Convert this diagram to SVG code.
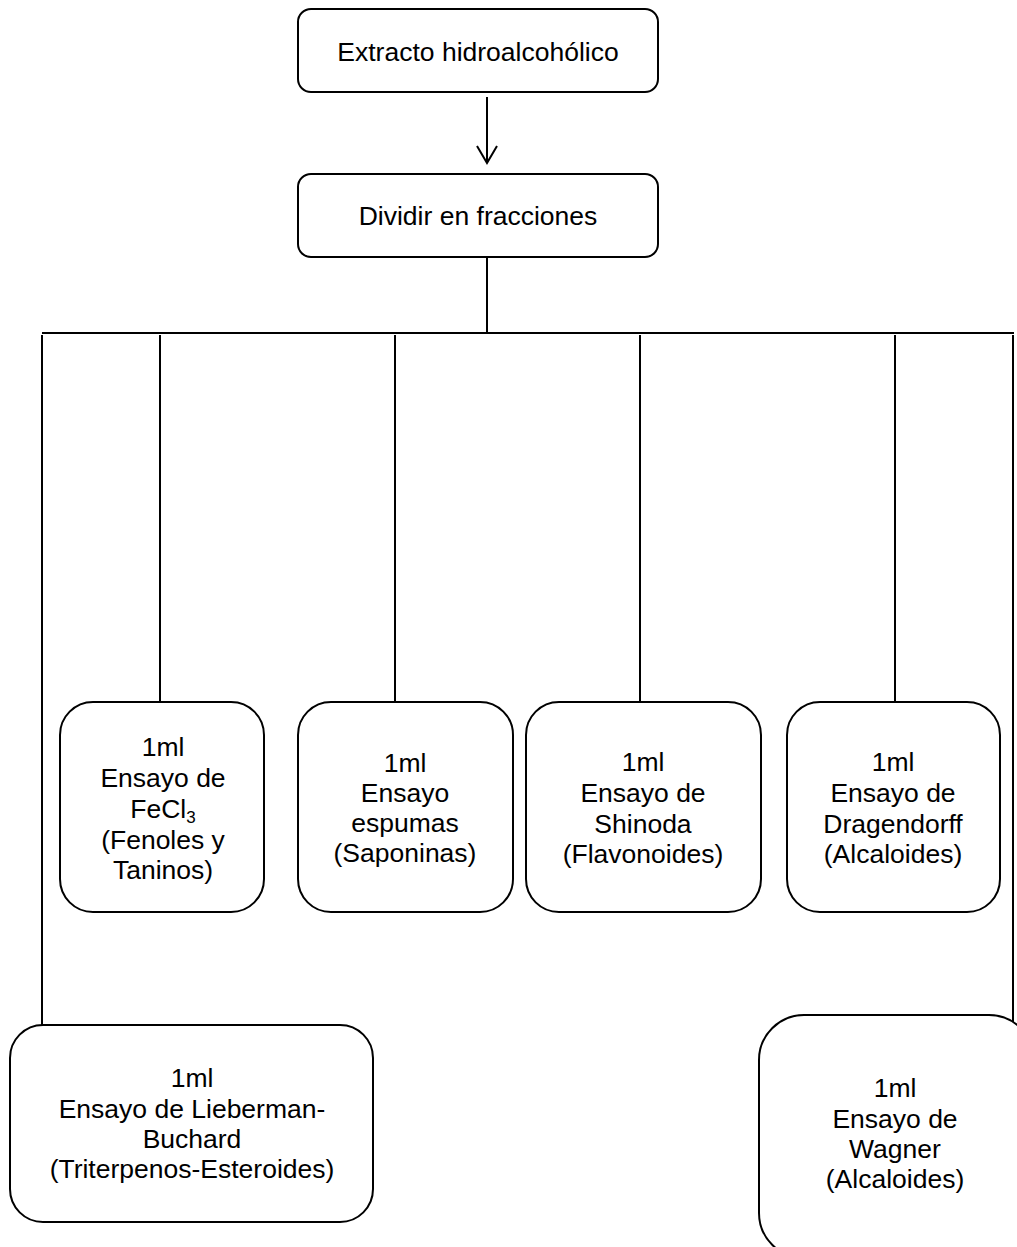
<svg xmlns="http://www.w3.org/2000/svg" width="1017" height="1247" viewBox="0 0 1017 1247">
<style>
.box{fill:#fff;stroke:#000;stroke-width:2}
.ln{stroke:#000;stroke-width:2;fill:none}
text{font-family:"Liberation Sans",Arial,sans-serif;font-size:26.5px;fill:#000;text-anchor:middle}
</style>
<rect width="1017" height="1247" fill="#fff"/>
<g id="connectors">
<line class="ln" x1="487" y1="97" x2="487" y2="162"/>
<polyline class="ln" points="477,146 487,163 497,146"/>
<line class="ln" x1="487" y1="257" x2="487" y2="333"/>
<line class="ln" x1="42" y1="333" x2="1014" y2="333"/>
<line class="ln" x1="42" y1="335" x2="42" y2="1026"/>
<line class="ln" x1="160" y1="335" x2="160" y2="702"/>
<line class="ln" x1="395" y1="335" x2="395" y2="702"/>
<line class="ln" x1="640" y1="335" x2="640" y2="702"/>
<line class="ln" x1="895" y1="335" x2="895" y2="702"/>
<line class="ln" x1="1013" y1="335" x2="1013" y2="1023"/>
</g>
<g id="n-extracto">
<rect class="box" x="298" y="9" width="360" height="83" rx="13"/>
<text x="478" y="61">Extracto hidroalcohólico</text>
</g>
<g id="n-dividir">
<rect class="box" x="298" y="174" width="360" height="83" rx="13"/>
<text x="478" y="225">Dividir en fracciones</text>
</g>
<g id="n-fecl3">
<rect class="box" x="60" y="702" width="204" height="210" rx="33"/>
<text x="163" y="756">1ml</text>
<text x="163" y="787">Ensayo de</text>
<text x="163" y="818">FeCl<tspan font-size="17" dy="5">3</tspan></text>
<text x="163" y="849">(Fenoles y</text>
<text x="163" y="879">Taninos)</text>
</g>
<g id="n-espumas">
<rect class="box" x="298" y="702" width="215" height="210" rx="33"/>
<text x="405" y="772">1ml</text>
<text x="405" y="802">Ensayo</text>
<text x="405" y="832">espumas</text>
<text x="405" y="862">(Saponinas)</text>
</g>
<g id="n-shinoda">
<rect class="box" x="526" y="702" width="235" height="210" rx="33"/>
<text x="643" y="771">1ml</text>
<text x="643" y="802">Ensayo de</text>
<text x="643" y="833">Shinoda</text>
<text x="643" y="863">(Flavonoides)</text>
</g>
<g id="n-dragendorff">
<rect class="box" x="787" y="702" width="213" height="210" rx="33"/>
<text x="893" y="771">1ml</text>
<text x="893" y="802">Ensayo de</text>
<text x="893" y="833">Dragendorff</text>
<text x="893" y="863">(Alcaloides)</text>
</g>
<g id="n-lieberman">
<rect class="box" x="10" y="1025" width="363" height="197" rx="33"/>
<text x="192" y="1087">1ml</text>
<text x="192" y="1118">Ensayo de Lieberman-</text>
<text x="192" y="1148">Buchard</text>
<text x="192" y="1178">(Triterpenos-Esteroides)</text>
</g>
<g id="n-wagner">
<rect class="box" x="759" y="1015" width="275" height="243" rx="45"/>
<text x="895" y="1097">1ml</text>
<text x="895" y="1128">Ensayo de</text>
<text x="895" y="1158">Wagner</text>
<text x="895" y="1188">(Alcaloides)</text>
</g>
</svg>
